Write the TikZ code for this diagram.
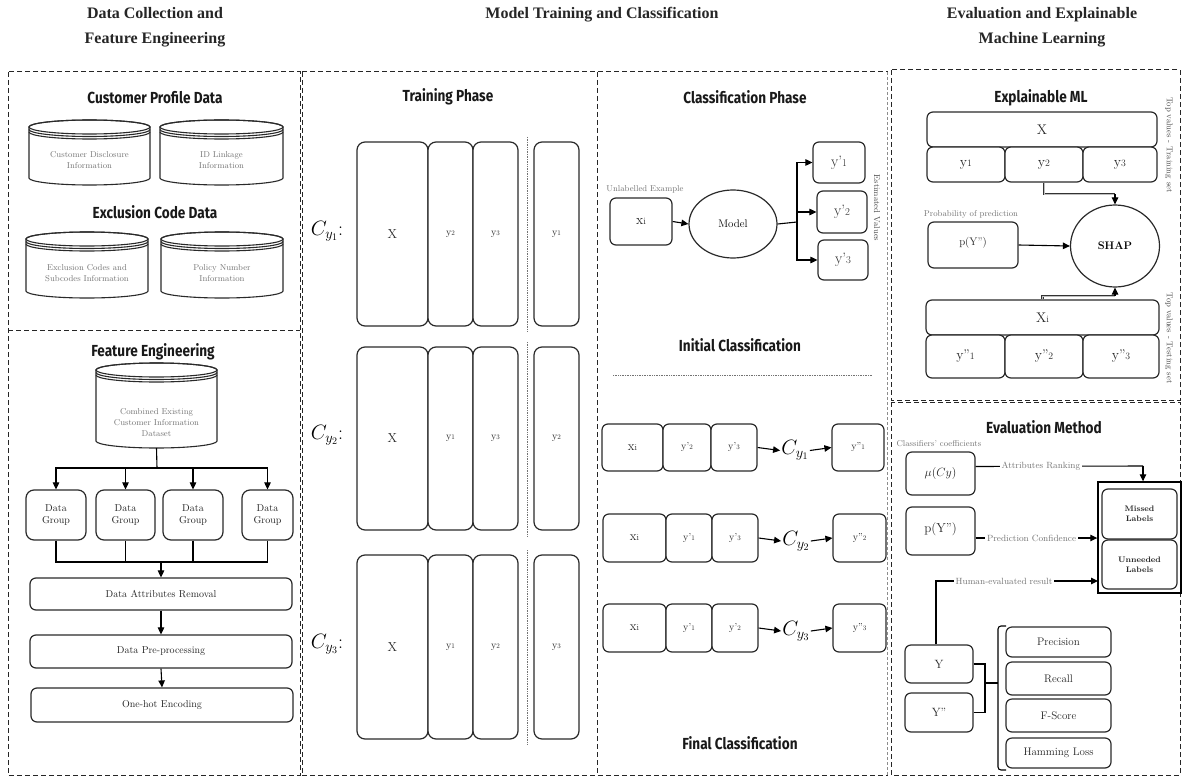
\documentclass[tikz,border=0pt]{standalone}
\usepackage{fontspec}
\usetikzlibrary{arrows.meta,shapes.geometric,calc}
\newfontfamily\ttlfont[FakeStretch=0.85]{Fira Sans}
\newfontfamily\hdrfont{Liberation Serif}
\definecolor{ink}{HTML}{2A2A2A}
\definecolor{soft}{HTML}{767676}
\newcommand\dg[1]{\scalebox{0.7}{#1}}
% rounded box from its corners: style, name, x1, y1, x2, y2, text
\newcommand\boxat[7]{%
  \pgfmathsetmacro\bxW{#5-#3}\pgfmathsetmacro\bxH{#6-#4}%
  \pgfmathsetmacro\bxX{(#3+#5)/2}\pgfmathsetmacro\bxY{(#4+#6)/2}%
  \node[box,minimum width=\bxW pt,minimum height=\bxH pt,#1] (#2) at (\bxX,\bxY) {#7};}
% database cylinder with rings: name, x1, y1, x2, y2, text
\newcommand\dbcyl[6]{%
  \pgfmathsetmacro\cylX{(#2+#4)/2}\pgfmathsetmacro\cylR{(#4-#2)/2}%
  \pgfmathsetmacro\cylT{#3+7}\pgfmathsetmacro\cylB{#5-7}%
  \draw[cyl,fill=white] (#2,\cylT) -- (#2,\cylB)
     arc[start angle=180,end angle=0,x radius=\cylR,y radius=7] -- (#4,\cylT)
     arc[start angle=0,end angle=-180,x radius=\cylR,y radius=7] -- cycle;
  \draw[cyl] (\cylX,\cylT) ellipse[x radius=\cylR,y radius=7];
  \draw[cyl] ({#2},{\cylT+2.5}) arc[start angle=180,end angle=0,x radius=\cylR,y radius=7];
  \draw[cyl] ({#2},{\cylT+5}) arc[start angle=180,end angle=0,x radius=\cylR,y radius=7];
  \node[cyltext] (#1) at (\cylX,{#5-25}) {#6};
  \coordinate (#1-bot) at (\cylX,#5);}
\tikzset{
  frame/.style={draw=black!85,line width=1pt,dash pattern=on 5pt off 3pt},
  thinframe/.style={draw=black!45,line width=0.5pt,dash pattern=on 3pt off 2pt},
  hdr/.style={font=\hdrfont\bfseries\fontsize{16}{25}\selectfont,align=center,text=black!85},
  ttl/.style={font=\ttlfont\bfseries\fontsize{16}{18}\selectfont,text=black!90},
  box/.style={draw=ink,line width=1.2pt,rounded corners=6pt,fill=white,
    font=\fontsize{10}{12}\selectfont,inner sep=0pt,align=center,text=black!85},
  tall/.style={rounded corners=8pt},
  cyl/.style={draw=ink,line width=1.1pt},
  cyltext/.style={text=soft,font=\fontsize{8.5}{11}\selectfont,align=center},
  arr/.style={draw=black,line width=1.1pt,-{Triangle[length=7pt,width=6.5pt]}},
  ln/.style={draw=black,line width=1.1pt},
  dbl/.style={draw=black!80,line width=0.7pt,double=black!25,double distance=1pt},
  note/.style={text=soft,font=\fontsize{8.5}{10}\selectfont},
  lbl/.style={fill=white,text=soft,font=\fontsize{9}{10}\selectfont,inner sep=2pt},
  side/.style={text=black!70,font=\fontsize{8.5}{10}\selectfont,rotate=-90},
  cmath/.style={font=\fontsize{20}{22}\selectfont,inner sep=1pt},
  dots/.style={black!55,line width=0.7pt,densely dotted},
}
\begin{document}
\begin{tikzpicture}[x=1pt,y=-1pt]
\useasboundingbox (0,0) rectangle (1182,778);
\fill[white] (0,0) rectangle (1182,778);

% ---------- column headers ----------
\node[hdr] (h1) at (155,27.5) {Data Collection and\\Feature Engineering};
\node[hdr] (h2) at (602,15) {Model Training and Classification};
\node[hdr] (h3) at (1042,27.5) {Evaluation and Explainable\\Machine Learning};

% ---------- dashed frames ----------
\draw[frame] (8,72) rectangle (300,775);
\draw[frame] (8,330) -- (300,330);
\draw[frame] (302,72) -- (888,72);
\draw[frame] (302,775) -- (888,775);
\draw[frame] (302,72) -- (302,775);
\draw[frame] (597,72) -- (597,775);
\draw[thinframe] (887,72) -- (887,775);
\draw[frame] (891,70) rectangle (1180,400);
\draw[frame] (891,402) rectangle (1180,775);

% ---------- data collection ----------
\node[ttl] (t1) at (155,98) {Customer Profile Data};
\dbcyl{c1}{29}{120}{150}{185}{Customer Disclosure\\Information}
\dbcyl{c2}{160}{120}{283}{185}{ID Linkage\\Information}
\node[ttl] (t2) at (155,212) {Exclusion Code Data};
\dbcyl{c3}{26}{232}{148}{298}{Exclusion Codes and\\Subcodes Information}
\dbcyl{c4}{161}{232}{283}{298}{Policy Number\\Information}

% ---------- feature engineering ----------
\node[ttl] (t3) at (153,352) {Feature Engineering};
\dbcyl{cb}{96}{363}{217}{448}{Combined Existing\\Customer Information\\Dataset}
\boxat{rounded corners=8pt}{dg1}{26}{490}{86}{540}{Data\\Group}
\boxat{rounded corners=8pt}{dg2}{96}{490}{155}{540}{Data\\Group}
\boxat{rounded corners=8pt}{dg3}{163}{490}{223}{540}{Data\\Group}
\boxat{rounded corners=8pt}{dg4}{242}{490}{293}{540}{Data\\Group}
\boxat{}{dar}{30}{578}{292}{610}{Data Attributes Removal}
\boxat{}{dpp}{30}{635}{292}{668}{Data Pre-processing}
\boxat{}{ohe}{31}{688}{293}{722}{One-hot Encoding}
\coordinate (busA) at (157,468);
\coordinate (busB) at (161,562);
\draw[ln] (cb-bot) -- (busA);
\foreach \g in {dg1,dg2,dg3,dg4}{
  \draw[arr] (busA) -| (\g.north);
  \draw[ln] (\g.south) |- (busB);
}
\draw[arr] (busB) -- (dar.north);
\draw[arr] (dar.south) -- (dpp.north);
\draw[arr] (dpp.south) -- (ohe.north);

% ---------- training phase ----------
\node[ttl] (t4) at (448,97) {Training Phase};
\foreach \r/\ya/\yb/\la/\lb/\lc/\ld in
   {1/142/326/2/3/1/1, 2/347/530/1/3/2/2, 3/555/739/1/2/3/3}{
  \boxat{tall,font=\fontsize{13}{14}\selectfont}{tx\r}{357}{\ya}{428}{\yb}{X}
  \boxat{tall}{ta\r}{428}{\ya}{473}{\yb}{y\dg{\la}}
  \boxat{tall}{tb\r}{473}{\ya}{518}{\yb}{y\dg{\lb}}
  \boxat{tall}{tc\r}{534}{\ya}{579}{\yb}{y\dg{\lc}}
  \coordinate (dt\r) at (527,{\ya-5});
  \coordinate (db\r) at (527,{\yb+6});
  \draw[dots] (dt\r) -- (db\r);
  \node[cmath] (cl\r) at (327,{(\ya+\yb)/2-3}) {$C_{y_\ld}$:};
}

% ---------- classification phase ----------
\node[ttl] (t5) at (745,97) {Classification Phase};
\node[note] (ue) at (645,189) {Unlabelled Example};
\boxat{font=\fontsize{14}{15}\selectfont}{xi0}{610}{198}{672}{245}{x\dg{i}}
\node[draw=ink,line width=1.2pt,ellipse,minimum width=88pt,minimum height=68pt,
      font=\fontsize{11}{12}\selectfont,fill=white] (model) at (733,224) {Model};
\boxat{font=\fontsize{15}{16}\selectfont}{yp1}{813}{142}{865}{183}{y'\dg{1}}
\boxat{font=\fontsize{15}{16}\selectfont}{yp2}{817}{191}{867}{233}{y'\dg{2}}
\boxat{font=\fontsize{15}{16}\selectfont}{yp3}{818}{240}{868}{280}{y'\dg{3}}
\coordinate (br) at (797,222);
\draw[arr] (xi0.east) -- (model.west);
\draw[ln] (model.east) -- (br);
\draw[arr] (br) |- (yp1.west);
\draw[arr] (br) |- (yp2.west);
\draw[arr] (br) |- (yp3.west);
\node[side] (est) at (877,208) {Estimated Values};
\node[ttl] (t6) at (740,345) {Initial Classification};
\coordinate (dl) at (613,375);
\coordinate (dr) at (872,375);
\draw[dots] (dl) -- (dr);

% ---------- final classification rows ----------
\foreach \r/\ya/\yb/\xa/\xb/\xc/\xd/\xe/\xf/\pa/\pb in
   {1/424/471/602/663/711/757/832/884/2/3,
    2/514/562/603/666/712/758/833/886/1/3,
    3/604/652/603/666/712/758/833/886/1/2}{
  \boxat{font=\fontsize{13}{14}\selectfont}{fx\r}{\xa}{\ya}{\xb}{\yb}{x\dg{i}}
  \boxat{}{fa\r}{\xb}{\ya}{\xc}{\yb}{y'\dg{\pa}}
  \boxat{}{fb\r}{\xc}{\ya}{\xd}{\yb}{y'\dg{\pb}}
  \boxat{}{fo\r}{\xe}{\ya}{\xf}{\yb}{y''\dg{\r}}
  \node[cmath] (fc\r) at ({\xd+38},{(\ya+\yb)/2+3}) {$C_{y_\r}$};
  \draw[arr] (fb\r.east) -- (fc\r.west);
  \draw[arr] (fc\r.east) -- (fo\r.west);
}
\node[ttl] (t7) at (740,743) {Final Classification};

% ---------- explainable ML ----------
\node[ttl] (t8) at (1041,98) {Explainable ML};
\boxat{font=\fontsize{14}{15}\selectfont}{ex}{927}{112}{1157}{147}{X}
\boxat{font=\fontsize{14}{15}\selectfont}{ey1}{927}{147}{1005}{182}{y\dg{1}}
\boxat{font=\fontsize{14}{15}\selectfont}{ey2}{1005}{147}{1083}{182}{y\dg{2}}
\boxat{font=\fontsize{14}{15}\selectfont}{ey3}{1083}{147}{1157}{182}{y\dg{3}}
\node[side] (s1) at (1169,145) {Top values - Training set};
\node[note] (pp) at (971,214) {Probability of prediction};
\boxat{font=\fontsize{11}{12}\selectfont}{epy}{928}{222}{1018}{268}{\raisebox{8pt}{p(Y'')}}
\node[draw=ink,line width=1.2pt,ellipse,minimum width=89pt,minimum height=82pt,
      font=\bfseries\fontsize{11}{12}\selectfont,fill=white] (shap) at (1115,246) {SHAP};
\draw[arr] (epy.east) -- (shap.west);
\coordinate (j1) at (1115,194);
\coordinate (j2) at (1115,296);
\draw[dbl] (ey2.south) |- (j1);
\draw[arr] (j1) -- (shap.north);
\boxat{font=\fontsize{14}{15}\selectfont}{exi}{926}{300}{1159}{335}{X\dg{i}}
\boxat{font=\fontsize{14}{15}\selectfont}{ez1}{926}{335}{1005}{378}{y''\dg{1}}
\boxat{font=\fontsize{14}{15}\selectfont}{ez2}{1005}{335}{1083}{378}{y''\dg{2}}
\boxat{font=\fontsize{14}{15}\selectfont}{ez3}{1083}{335}{1159}{378}{y''\dg{3}}
\draw[dbl] (exi.north) |- (j2);
\draw[arr] (j2) -- (shap.south);
\node[side] (s2) at (1169,338) {Top values - Testing set};

% ---------- evaluation method ----------
\node[ttl] (t9) at (1044,427) {Evaluation Method};
\node[note,anchor=west] (cc) at (893,444) {Classifiers' coefficients};
\boxat{font=\fontsize{13}{14}\selectfont}{mu}{906}{452}{975}{495}{$\mu(Cy)$}
\boxat{font=\fontsize{13}{14}\selectfont}{epv}{906}{507}{975}{555}{\raisebox{6pt}{p(Y'')}}
\node[draw=black,line width=1.4pt,minimum width=83pt,minimum height=111pt,inner sep=0pt]
     (lab) at (1139.5,537.5) {};
\boxat{font=\bfseries\fontsize{8}{10}\selectfont}{mis}{1102}{489}{1177}{539}{Missed\\Labels}
\boxat{font=\bfseries\fontsize{8}{10}\selectfont}{unn}{1102}{540}{1177}{589}{Unneeded\\Labels}
\coordinate (k1) at (1143,466);
\draw[ln] ([yshift=7pt]mu.east) -- node[lbl,pos=0.39]{Attributes Ranking} (k1);
\draw[arr] (k1) -- (k1 |- lab.north);
\draw[arr] ([yshift=-7pt]epv.east) -- node[lbl,pos=0.46]{Prediction Confidence} ([yshift=-7pt]epv.east -| lab.west);
\boxat{font=\fontsize{12}{13}\selectfont}{ybox}{905}{645}{973}{683}{Y}
\boxat{font=\fontsize{12}{13}\selectfont}{yhat}{905}{693}{973}{732}{Y''}
\coordinate (k2) at (1098,581);
\draw[arr] ([xshift=-3pt]ybox.north) |- node[lbl,pos=0.71]{Human-evaluated result} (k2);
\boxat{font=\fontsize{11}{12}\selectfont}{pre}{1006}{627}{1111}{657}{Precision}
\boxat{font=\fontsize{11}{12}\selectfont}{rec}{1006}{662}{1111}{695}{Recall}
\boxat{font=\fontsize{11}{12}\selectfont}{fsc}{1006}{699}{1111}{732}{F-Score}
\boxat{font=\fontsize{11}{12}\selectfont}{ham}{1006}{738}{1111}{768}{Hamming Loss}
\coordinate (m1) at (985,683);
\coordinate (m2) at (998,683);
\draw[ln] (ybox.east) -| (m1);
\draw[ln] (yhat.east) -| (m1);
\draw[ln] (m1) -- (m2);
\draw[ln,rounded corners=3pt] (1006,626) -- (998,626) -- (998,770) -- (1006,770);
\end{tikzpicture}
\end{document}
